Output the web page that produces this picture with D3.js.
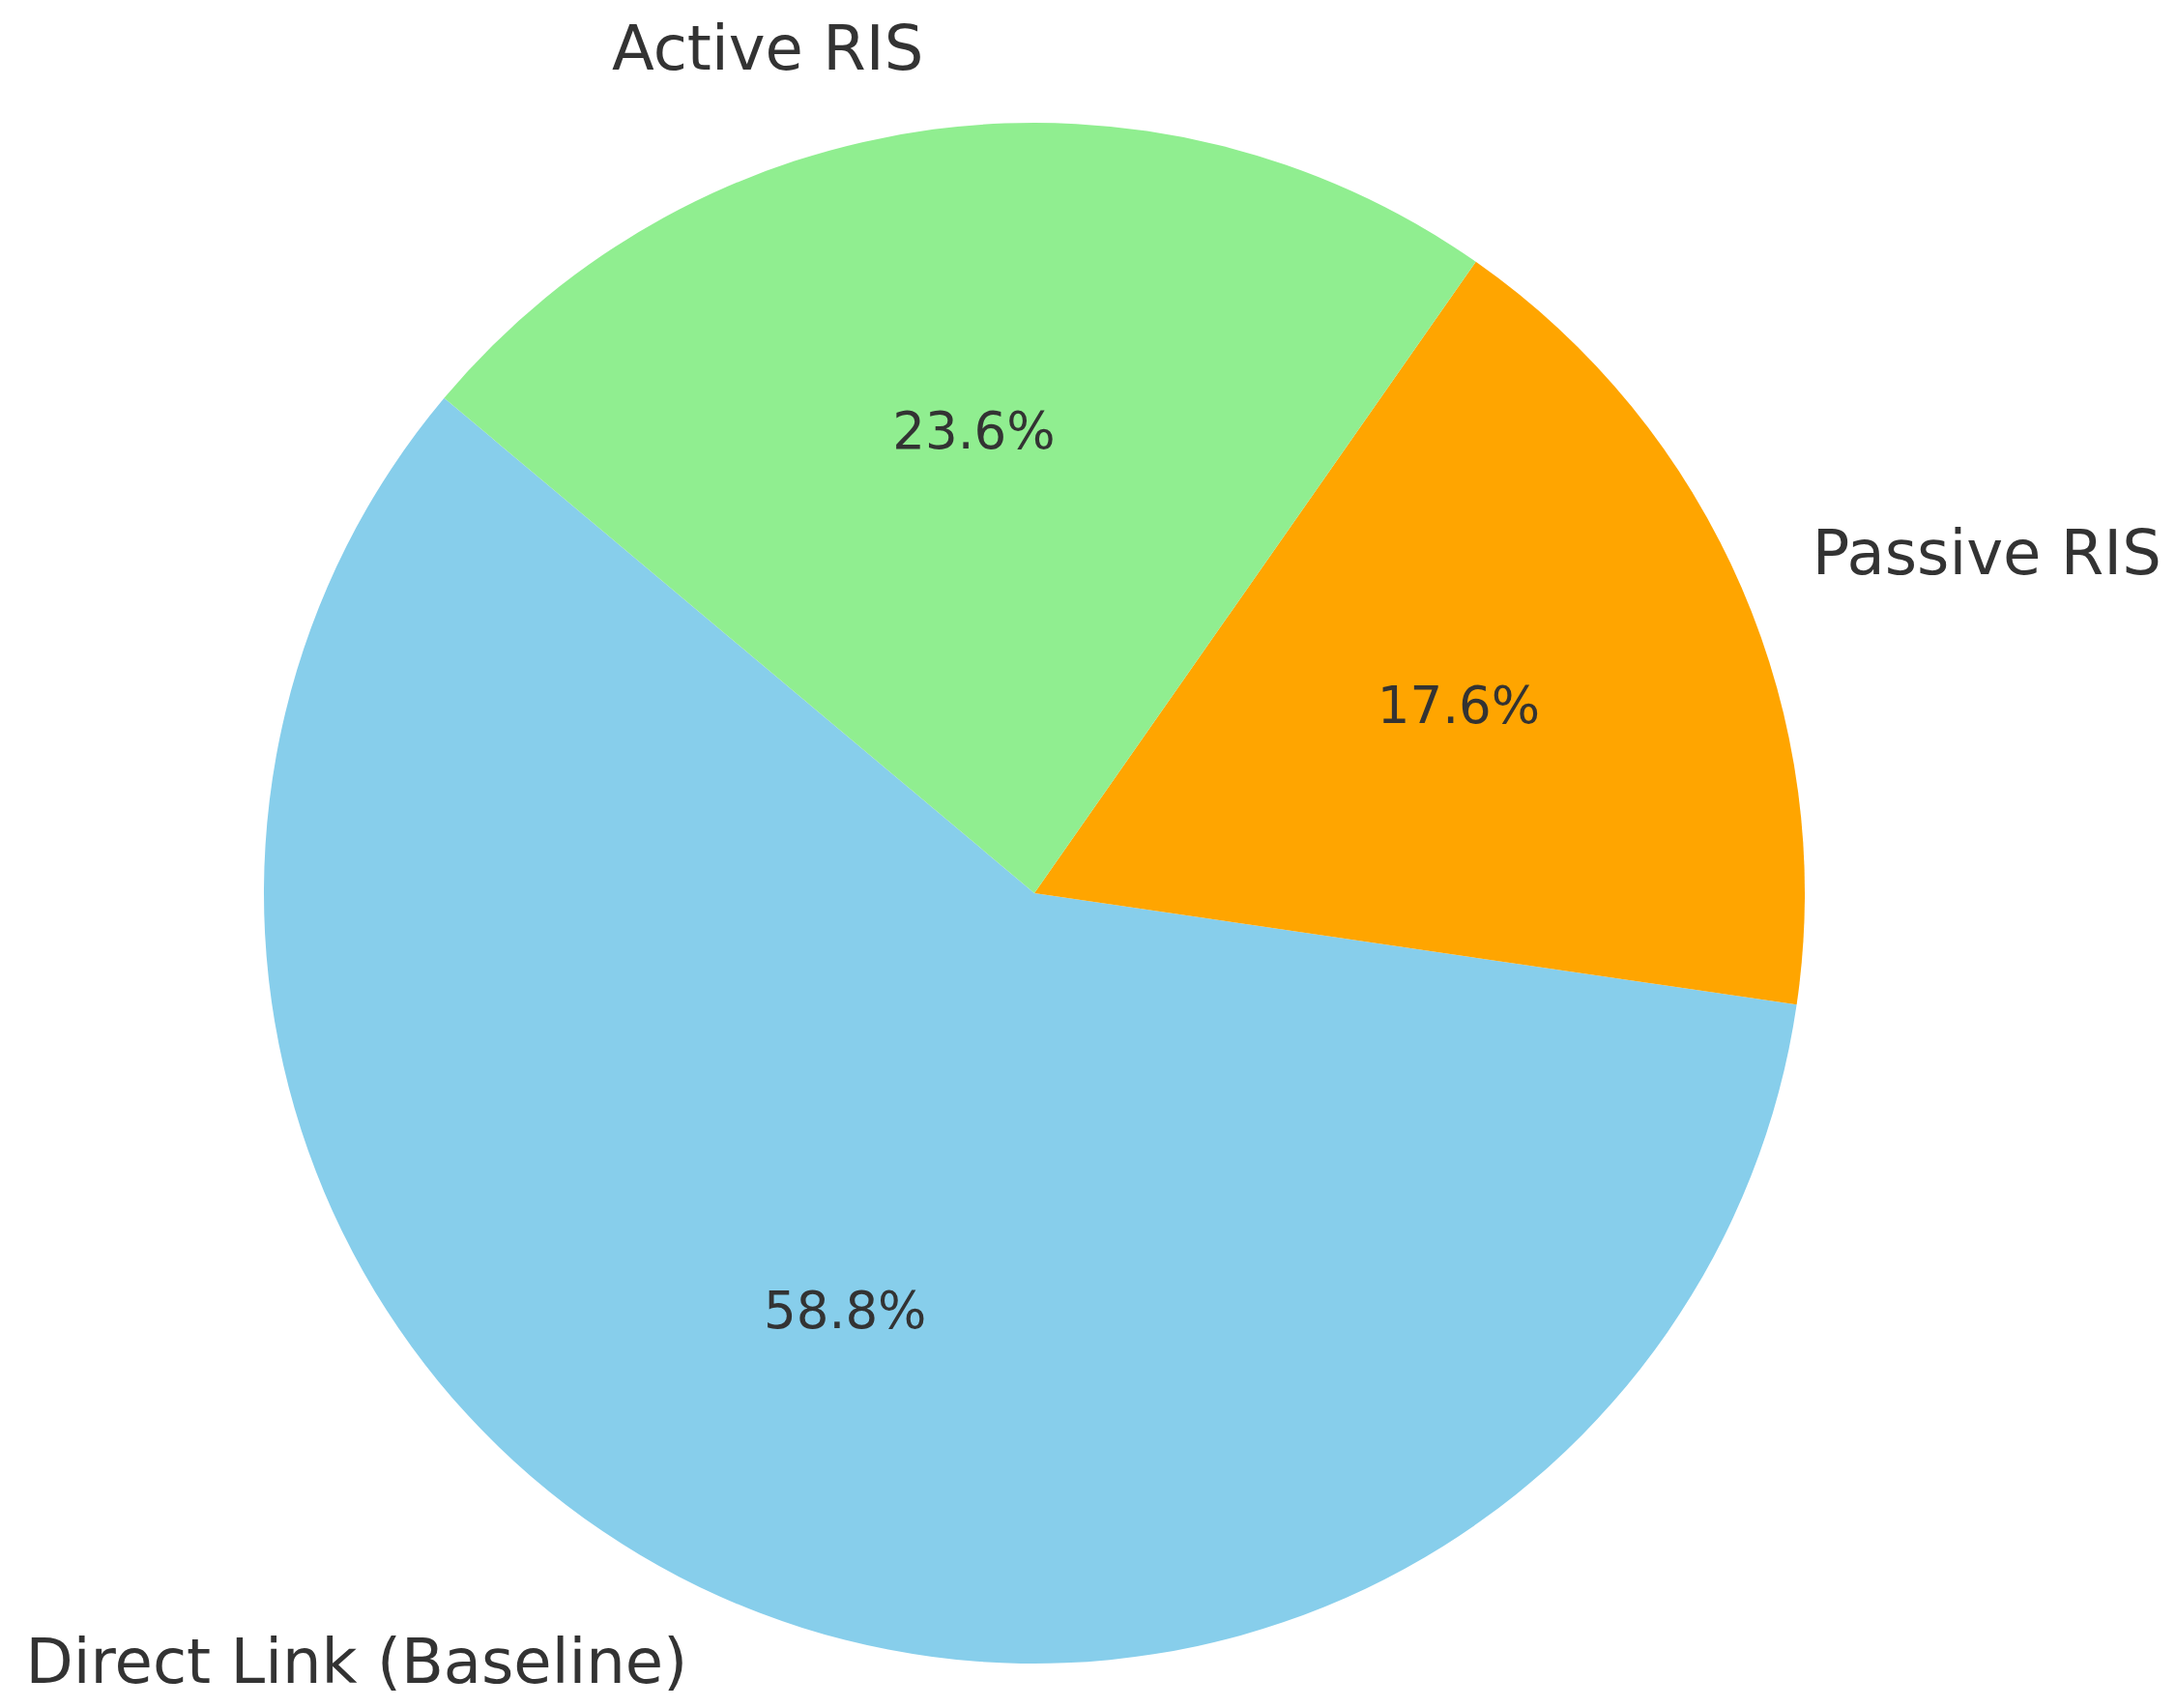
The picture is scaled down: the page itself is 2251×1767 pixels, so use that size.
<!DOCTYPE html>
<html lang="en">
<head>
  <meta charset="UTF-8">
  <title>RIS Pie Chart</title>
  <script src="https://d3js.org/d3.v7.min.js"></script>
  <style>
    body { margin: 0; background: #fff; }
    svg text { font-family: "DejaVu Sans", sans-serif; fill: #333333; }
  </style>
</head>
<body>
  <svg width="2251" height="1767"></svg>
  <script>
    // Data (matplotlib order, counter-clockwise from startangle 140)
    const labels = ["Direct Link (Baseline)", "Passive RIS", "Active RIS"];
    const values = [58.8, 17.6, 23.6];
    const colors = ["#87CEEB", "#FFA500", "#90EE90"];

    const width = 2251, height = 1767;
    const cx = 1070, cy = 924, radius = 797;
    const startDeg = 140;

    const svg = d3.select("svg")
      .attr("width", width)
      .attr("height", height);

    const g = svg.append("g")
      .attr("transform", "translate(" + cx + "," + cy + ")");

    // d3 angles are clockwise from 12 o'clock; matplotlib goes counter-clockwise from 3 o'clock
    const a0 = (90 - startDeg) * Math.PI / 180;
    const pie = d3.pie()
      .sort(null)
      .value(d => d.value)
      .startAngle(a0)
      .endAngle(a0 - 2 * Math.PI);

    const dataset = labels.map((l, i) => ({ label: l, value: values[i], color: colors[i] }));
    const arcs = pie(dataset);
    const total = d3.sum(values);

    const arc = d3.arc().innerRadius(0).outerRadius(radius);

    g.selectAll("path.slice")
      .data(arcs)
      .enter()
      .append("path")
      .attr("class", "slice")
      .attr("d", arc)
      .attr("fill", d => d.data.color);

    const mid = d => (d.startAngle + d.endAngle) / 2;

    // outer labels at 1.1 r
    g.selectAll("text.label")
      .data(arcs)
      .enter()
      .append("text")
      .attr("class", "label")
      .attr("x", d => 1.1 * radius * Math.sin(mid(d)))
      .attr("y", d => -1.1 * radius * Math.cos(mid(d)))
      .attr("dy", "0.27em")
      .attr("text-anchor", d => Math.sin(mid(d)) > 0 ? "start" : "end")
      .style("font-size", "64px")
      .text(d => d.data.label);

    // percentage labels at 0.6 r
    g.selectAll("text.pct")
      .data(arcs)
      .enter()
      .append("text")
      .attr("class", "pct")
      .attr("x", d => 0.6 * radius * Math.sin(mid(d)))
      .attr("y", d => -0.6 * radius * Math.cos(mid(d)))
      .attr("dy", "0.26em")
      .attr("text-anchor", "middle")
      .style("font-size", "53px")
      .text(d => (d.data.value / total * 100).toFixed(1) + "%");
  </script>
</body>
</html>
